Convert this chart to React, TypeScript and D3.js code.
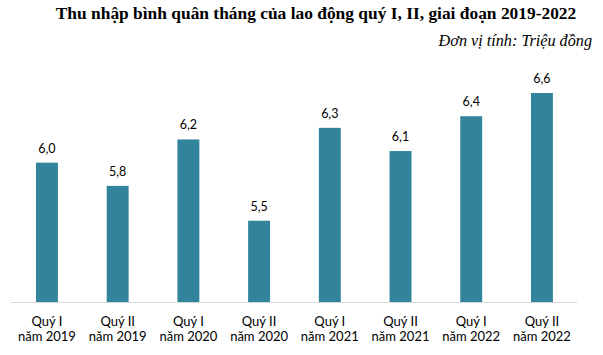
import React from "react";
import * as d3 from "d3";

const quarters = ["Quý I", "Quý II", "Quý I", "Quý II", "Quý I", "Quý II", "Quý I", "Quý II"];
const years = ["năm 2019", "năm 2019", "năm 2020", "năm 2020", "năm 2021", "năm 2021", "năm 2022", "năm 2022"];
const values = [6.0, 5.8, 6.2, 5.5, 6.3, 6.1, 6.4, 6.6];
const valueLabels = ["6,0", "5,8", "6,2", "5,5", "6,3", "6,1", "6,4", "6,6"];

const title = "Thu nhập bình quân tháng của lao động quý I, II, giai đoạn 2019-2022";
const unit = "Đơn vị tính: Triệu đồng";

const W = 603;
const H = 355;

export default function App() {
  const ids = values.map((_, i) => String(i));
  const x = d3.scaleBand<string>().domain(ids).range([11.6, 577.3]).paddingInner(0.69).paddingOuter(0.345);
  const y = d3.scaleLinear().domain([4.8, 6.6]).range([302, 93]);
  const base = y(4.8);
  const labelFont = "Lato, 'Open Sans', sans-serif";
  return (
    <div style={{ position: "absolute", left: 0, top: 0 }}>
      <svg width={W} height={H} style={{ display: "block", background: "#fff" }}>
        <text x={316} y={19} textAnchor="middle" fontFamily="'Liberation Serif', 'Times New Roman', serif" fontWeight="bold" fontSize={17.4} fill="#000">
          {title}
        </text>
        <text x={592} y={46} textAnchor="end" fontFamily="'Liberation Serif', 'Times New Roman', serif" fontStyle="italic" fontSize={16.2} fill="#000">
          {unit}
        </text>
        <line x1={11} x2={577} y1={base + 0.5} y2={base + 0.5} stroke="#d9d9d9" strokeWidth={1} />
        {values.map((v, i) => {
          const bx = x(ids[i])!;
          const bw = x.bandwidth();
          const cx = bx + bw / 2;
          return (
            <g key={i}>
              <rect x={bx} y={y(v)} width={bw} height={base - y(v)} fill="#31849b" />
              <text x={cx} y={y(v) - 10} textAnchor="middle" fontFamily={labelFont} fontSize={12.5} fill="#000">
                {valueLabels[i]}
              </text>
              <text x={cx} y={326} textAnchor="middle" fontFamily={labelFont} fontSize={13} fill="#000">
                {quarters[i]}
              </text>
              <text x={cx} y={341} textAnchor="middle" fontFamily={labelFont} fontSize={13} fill="#000">
                {years[i]}
              </text>
            </g>
          );
        })}
      </svg>
    </div>
  );
}
